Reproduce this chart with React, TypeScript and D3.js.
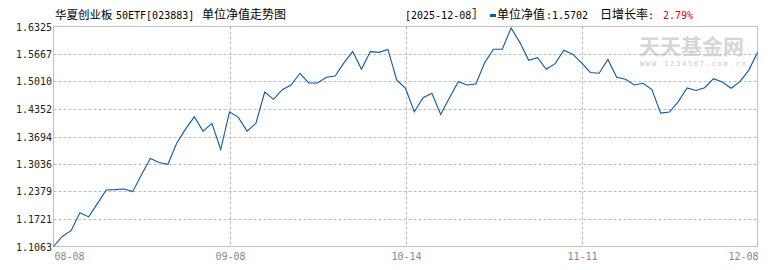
import React from "react";
import * as d3 from "d3";

const navValues: number[] = [
  1.1063, 1.1303, 1.144, 1.1872, 1.1771, 1.2095, 1.2414, 1.2423, 1.2438, 1.2375,
  1.2778, 1.3167, 1.3071, 1.303, 1.3534, 1.387, 1.4165, 1.3822, 1.4007, 1.3383,
  1.4285, 1.4151, 1.3822, 1.4007, 1.4758, 1.4583, 1.4813, 1.4926, 1.5206, 1.4974,
  1.4974, 1.5111, 1.5142, 1.5454, 1.5725, 1.5302, 1.5725, 1.5706, 1.5777, 1.5046,
  1.4847, 1.4285, 1.4621, 1.4727, 1.4223, 1.4621, 1.5005, 1.4926, 1.495, 1.5461,
  1.5782, 1.5782, 1.629, 1.594, 1.5518, 1.5581, 1.5302, 1.5437, 1.5758, 1.5662,
  1.5454, 1.5226, 1.5207, 1.5538, 1.5111, 1.5063, 1.4926, 1.4967, 1.4818, 1.4254,
  1.4278, 1.453, 1.4854, 1.4794, 1.4861, 1.5077, 1.4998, 1.4847, 1.5005, 1.5276,
  1.5702,
];

const yTickLabels: string[] = ["1.1063", "1.1721", "1.2379", "1.3036", "1.3694", "1.4352", "1.5010", "1.5667", "1.6325"];
const xTickLabels: string[] = ["08-08", "09-08", "10-14", "11-11", "12-08"];
const xTickIndex: number[] = [0, 20, 40, 60, 80];

const titleParts: string[] = ["华夏创业板", "50ETF[023883]", "单位净值走势图"];
const headerDate = "[2025-12-08］";
const headerNavLabel = "单位净值";
const headerNav = ":1.5702";
const headerRateLabel = "日增长率";
const headerRate = "2.79%";

const W = 770;
const H = 270;
const L = 53.5;
const R = 757.5;
const T = 26.5;
const B = 246.5;

const CJK = "'Noto Sans CJK SC', sans-serif";
const MONO = "'DejaVu Sans Mono', 'Liberation Mono', monospace";

export default function App() {
  const x = d3.scaleLinear().domain([0, navValues.length - 1]).range([L, R]);
  const y = d3
    .scaleLinear()
    .domain([+yTickLabels[0], +yTickLabels[yTickLabels.length - 1]])
    .range([B, T]);
  const line = d3
    .line<number>()
    .x((_, i) => x(i))
    .y((d) => y(d));

  const gridColor = "#bdbdbd";

  return (
    <svg
      width={W}
      height={H}
      style={{ position: "absolute", left: 0, top: 0, background: "#fff" }}
    >
      <rect x={0} y={0} width={W} height={H} fill="#fff" />
      {/* watermark */}
      <text x={639} y={54} fontFamily={CJK} fontSize={21} fontWeight="bold" fill="#d6d6d6">
        天天基金网
      </text>
      <text
        x={640}
        y={66}
        fontFamily={MONO}
        fontSize={7}
        fill="#c8c8c8"
        textLength={106}
        lengthAdjust="spacing"
      >
        WWW.1234567.com.cn
      </text>

      {/* horizontal grid */}
      {yTickLabels.map((t, i) => {
        const yy = Math.round(y(+t)) + 0.5;
        return (
          <g key={t}>
            {i > 0 && i < yTickLabels.length - 1 && (
              <line x1={L} x2={R} y1={yy} y2={yy} stroke={gridColor} strokeDasharray="3,2" />
            )}
            <text
              x={52}
              y={yy + 3.5}
              textAnchor="end"
              fontFamily={MONO}
              fontSize={10}
              fill="#222"
            >
              {t}
            </text>
          </g>
        );
      })}

      {/* vertical grid + x labels */}
      {xTickIndex.map((idx, i) => {
        const xx = Math.round(x(idx)) + 0.5;
        const anchor = i === 0 ? "start" : i === xTickIndex.length - 1 ? "end" : "middle";
        return (
          <g key={idx}>
            {i > 0 && i < xTickIndex.length - 1 && (
              <line x1={xx} x2={xx} y1={T} y2={B} stroke={gridColor} strokeDasharray="3,2" />
            )}
            <text
              x={i === 0 ? L + 1 : i === xTickIndex.length - 1 ? R + 1 : xx}
              y={260}
              textAnchor={anchor}
              fontFamily={MONO}
              fontSize={10}
              fill="#888"
            >
              {xTickLabels[i]}
            </text>
          </g>
        );
      })}

      {/* border */}
      <rect x={L} y={T} width={R - L} height={B - T} fill="none" stroke="#c0c0c0" />

      {/* line */}
      <path d={line(navValues) || ""} fill="none" stroke="#0b5aa8" strokeWidth={1.1} />

      {/* title */}
      <text y={19} fill="#000">
        <tspan x={55} fontFamily={CJK} fontSize={11.5}>{titleParts[0]}</tspan>
        <tspan x={116} fontFamily={MONO} fontSize={10}>{titleParts[1]}</tspan>
        <tspan x={202} fontFamily={CJK} fontSize={12}>{titleParts[2]}</tspan>
      </text>

      {/* right header */}
      <text y={19} fill="#000">
        <tspan x={405} fontFamily={MONO} fontSize={10}>{headerDate.slice(0, -1)}</tspan>
        <tspan x={472} fontFamily={CJK} fontSize={12}>{headerDate.slice(-1)}</tspan>
        <tspan x={497} fontFamily={CJK} fontSize={12}>{headerNavLabel}</tspan>
        <tspan x={546} fontFamily={MONO} fontSize={10}>{headerNav}</tspan>
        <tspan x={600} fontFamily={CJK} fontSize={12}>{headerRateLabel}</tspan>
        <tspan x={648} fontFamily={MONO} fontSize={10}>:</tspan>
        <tspan x={663} fontFamily={MONO} fontSize={10} fill="#e00000">{headerRate}</tspan>
      </text>
      <rect x={490} y={14} width={6} height={3} fill="#0b5aa8" />
    </svg>
  );
}
